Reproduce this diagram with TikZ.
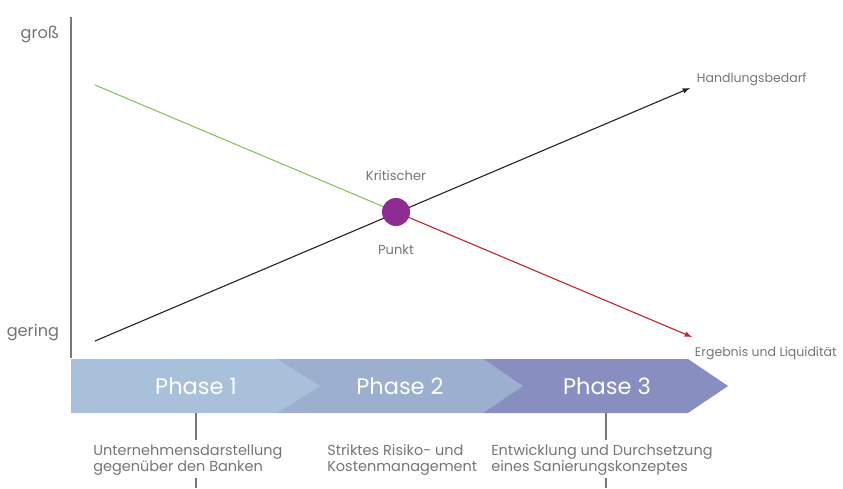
\documentclass[tikz,border=0pt]{standalone}
\usepackage{fontspec}
\setmainfont{Poppins}
\usepackage{tikz}
\usetikzlibrary{calc,arrows,positioning}
\definecolor{axisgray}{HTML}{777777}
\definecolor{txtgray}{HTML}{757575}
\definecolor{phaseA}{HTML}{A9C0DA}
\definecolor{phaseB}{HTML}{9CAFCF}
\definecolor{phaseC}{HTML}{898EC0}
\definecolor{critpurple}{HTML}{8E2B90}
\definecolor{lgreen}{HTML}{8DC26B}
\definecolor{lred}{HTML}{C0282E}
\tikzset{
    axislabel/.style={
    anchor=east,text=txtgray,font=\fontsize{11.5}{13}\selectfont
    },
    curvelabel/.style={
    anchor=west,text=txtgray,font=\fontsize{8.9}{10}\selectfont
    },
    phaselabel/.style={
    text=white,font=\fontsize{16}{18}\selectfont
    },
    desc/.style={
    anchor=west,align=left,text=txtgray,inner sep=0pt,
    font=\fontsize{10.3}{11.4}\selectfont
    },
    tick/.style={
    draw=axisgray,line width=0.9pt
    },
}

\begin{document}
\begin{tikzpicture}
   \useasboundingbox (0,0) rectangle (21.075,12.2);

   %axis
   \coordinate (ytop) at (1.775,11.775);
   \coordinate (ybot) at (1.775,3.25);
   \node[axislabel] (gross) at (1.6,11.33) {groß};
   \node[axislabel] (gering) at (1.6,3.875) {gering};
   \draw[axisgray,line width=1pt] (ytop) -- (ybot);

   %phases
   \fill[phaseC] (12.075,3.225) -- (17.2,3.225) -- (18.2,2.55) -- (17.2,1.875) -- (12.075,1.875) -- cycle;
   \fill[phaseB] (6.925,3.225) -- (12.075,3.225) -- (13.075,2.55) -- (12.075,1.875) -- (6.925,1.875) -- cycle;
   \fill[phaseA] (1.775,3.225) -- (6.925,3.225) -- (8.0,2.55) -- (6.925,1.875) -- (1.775,1.875) -- cycle;
   \node[phaselabel] (p1) at (4.9,2.55) {Phase 1};
   \node[phaselabel] (p2) at (10.0,2.55) {Phase 2};
   \node[phaselabel] (p3) at (15.175,2.55) {Phase 3};

   %descriptions
   \node[desc] (d1) at (2.325,0.7) {Unternehmensdarstellung\\gegenüber den Banken};
   \node[desc] (d2) at (8.175,0.7) {Striktes Risiko- und\\Kostenmanagement};
   \node[desc] (d3) at (12.275,0.7) {Entwicklung und Durchsetzung\\eines Sanierungskonzeptes};
   \coordinate (t1a) at (4.9,1.875);
   \coordinate (t1b) at (4.9,1.2);
   \coordinate (t1c) at (4.9,0.25);
   \coordinate (t1d) at (4.9,0);
   \coordinate (t3a) at (15.15,1.875);
   \coordinate (t3b) at (15.15,1.2);
   \coordinate (t3c) at (15.15,0.25);
   \coordinate (t3d) at (15.15,0);
   \draw[tick] (t1a) -- (t1b) (t1c) -- (t1d);
   \draw[tick] (t3a) -- (t3b) (t3c) -- (t3d);

   %curves
   \coordinate (gstart) at (2.375,10.075);
   \coordinate (bstart) at (2.375,3.675);
   \coordinate (bend) at (17.25,10.0);
   \coordinate (rend) at (17.3,3.775);
   \coordinate (kc) at (9.9,6.9);
   \draw[lgreen,line width=0.8pt] (gstart) -- (kc);
   \draw[lred,line width=0.8pt,-latex] (kc) -- (rend);
   \draw[black!85,line width=0.8pt,-latex] (bstart) -- (bend);
   \node[circle,fill=critpurple,minimum size=0.7cm,inner sep=0pt] (krit) at (kc) {};
   \node[text=txtgray,font=\fontsize{9.3}{11}\selectfont] (kritA) at (9.9,7.8) {Kritischer};
   \node[text=txtgray,font=\fontsize{9.3}{11}\selectfont] (kritB) at (9.9,5.95) {Punkt};
   \node[curvelabel] (handl) at (17.3,10.225) {Handlungsbedarf};
   \node[curvelabel] (erg) at (17.25,3.375) {Ergebnis und Liquidität};
\end{tikzpicture}
\end{document}
